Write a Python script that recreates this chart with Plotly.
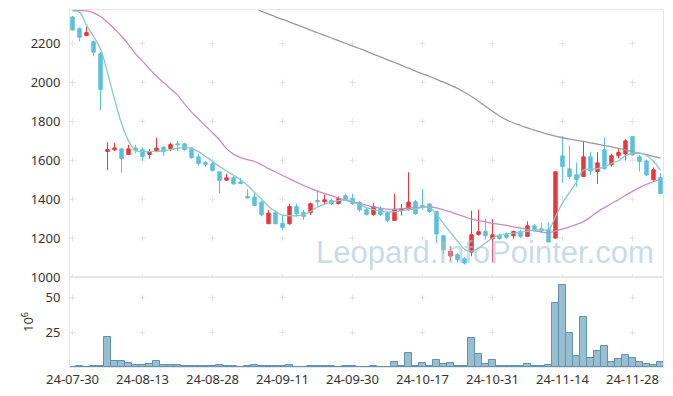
import plotly.graph_objects as go

dates = [
    "24-07-30", "24-07-31", "24-08-01", "24-08-02", "24-08-05", "24-08-06", "24-08-07", "24-08-08", "24-08-09", "24-08-12",
    "24-08-13", "24-08-14", "24-08-16", "24-08-19", "24-08-20", "24-08-21", "24-08-22", "24-08-23", "24-08-26", "24-08-27",
    "24-08-28", "24-08-29", "24-08-30", "24-09-02", "24-09-03", "24-09-04", "24-09-05", "24-09-06", "24-09-09", "24-09-10",
    "24-09-11", "24-09-12", "24-09-13", "24-09-19", "24-09-20", "24-09-23", "24-09-24", "24-09-25", "24-09-26", "24-09-27",
    "24-09-30", "24-10-02", "24-10-04", "24-10-07", "24-10-08", "24-10-10", "24-10-11", "24-10-14", "24-10-15", "24-10-16",
    "24-10-17", "24-10-18", "24-10-21", "24-10-22", "24-10-23", "24-10-24", "24-10-25", "24-10-28", "24-10-29", "24-10-30",
    "24-10-31", "24-11-01", "24-11-04", "24-11-05", "24-11-06", "24-11-07", "24-11-08", "24-11-11", "24-11-12", "24-11-13",
    "24-11-14", "24-11-15", "24-11-18", "24-11-19", "24-11-20", "24-11-21", "24-11-22", "24-11-25", "24-11-26", "24-11-27",
    "24-11-28", "24-11-29", "24-12-02", "24-12-03", "24-12-04",
]

open_ = [2337, 2277, 2241, 2210, 2149, 1645, 1654, 1659, 1630, 1664,
         1654, 1630, 1645, 1668, 1661, 1685, 1685, 1663, 1618, 1589,
         1582, 1541, 1498, 1510, 1488, 1414, 1412, 1385, 1274, 1332,
         1277, 1274, 1363, 1332, 1332, 1394, 1387, 1394, 1378, 1418,
         1404, 1383, 1346, 1322, 1354, 1329, 1291, 1341, 1346, 1387,
         1368, 1375, 1337, 1212, 1108, 1115, 1094, 1128, 1219, 1234,
         1197, 1214, 1219, 1212, 1234, 1209, 1263, 1248, 1245, 1200,
         1623, 1556, 1526, 1517, 1618, 1542, 1654, 1577, 1623, 1633,
         1722, 1618, 1597, 1500, 1512]
high = [2342, 2284, 2286, 2217, 2156, 1693, 1690, 1662, 1680, 1680,
        1668, 1658, 1716, 1670, 1691, 1699, 1690, 1666, 1633, 1597,
        1594, 1543, 1531, 1519, 1509, 1452, 1428, 1392, 1344, 1342,
        1320, 1377, 1377, 1344, 1383, 1448, 1424, 1402, 1414, 1428,
        1428, 1390, 1360, 1380, 1364, 1339, 1428, 1375, 1539, 1397,
        1452, 1380, 1340, 1217, 1157, 1124, 1102, 1341, 1346, 1301,
        1298, 1224, 1229, 1239, 1243, 1286, 1274, 1277, 1280, 1541,
        1726, 1675, 1589, 1697, 1645, 1642, 1719, 1634, 1661, 1709,
        1726, 1627, 1604, 1563, 1534]
low = [2268, 2212, 2240, 2135, 1858, 1550, 1647, 1536, 1628, 1635,
       1599, 1609, 1642, 1622, 1647, 1647, 1650, 1608, 1572, 1565,
       1541, 1431, 1496, 1474, 1476, 1404, 1365, 1311, 1272, 1272,
       1241, 1269, 1311, 1294, 1318, 1363, 1373, 1370, 1373, 1390,
       1370, 1334, 1315, 1315, 1312, 1281, 1288, 1316, 1342, 1320,
       1346, 1330, 1175, 1120, 1082, 1074, 1064, 1106, 1212, 1192,
       1077, 1192, 1197, 1197, 1200, 1205, 1231, 1226, 1178, 1198,
       1483, 1503, 1465, 1514, 1525, 1479, 1551, 1567, 1611, 1599,
       1623, 1542, 1520, 1495, 1428]
close = [2270, 2233, 2257, 2156, 1964, 1656, 1664, 1609, 1659, 1652,
         1620, 1644, 1663, 1644, 1681, 1680, 1655, 1614, 1584, 1580,
         1548, 1496, 1510, 1479, 1481, 1406, 1368, 1320, 1329, 1274,
         1255, 1363, 1325, 1311, 1377, 1387, 1397, 1378, 1404, 1397,
         1378, 1346, 1322, 1361, 1322, 1291, 1349, 1351, 1385, 1325,
         1361, 1337, 1221, 1140, 1132, 1089, 1072, 1217, 1233, 1212,
         1217, 1197, 1205, 1234, 1209, 1263, 1243, 1238, 1180, 1541,
         1568, 1517, 1500, 1618, 1545, 1587, 1558, 1623, 1640, 1700,
         1628, 1594, 1525, 1551, 1429]

ma5 = [2368, 2362, 2294, 2238, 2174, 2050, 1915, 1790, 1700, 1650,
       1646, 1645, 1646, 1650, 1655, 1662, 1665, 1660, 1645, 1620,
       1595, 1568, 1545, 1523, 1500, 1470, 1435, 1400, 1363, 1337,
       1318, 1315, 1315, 1320, 1337, 1360, 1375, 1385, 1393, 1396,
       1390, 1372, 1357, 1347, 1340, 1334, 1336, 1341, 1346, 1350,
       1358, 1358, 1322, 1275, 1228, 1185, 1143, 1133, 1148, 1175,
       1200, 1215, 1222, 1226, 1230, 1235, 1240, 1243, 1243, 1311,
       1380, 1435, 1488, 1550, 1554, 1558, 1565, 1585, 1598, 1625,
       1635, 1637, 1625, 1595, 1548]
ma20 = [2370, 2370, 2368, 2358, 2340, 2310, 2275, 2238, 2195, 2148,
        2110, 2070, 2032, 2000, 1968, 1935, 1890, 1848, 1812, 1778,
        1742, 1706, 1660, 1632, 1614, 1603, 1594, 1577, 1557, 1540,
        1522, 1505, 1488, 1471, 1456, 1442, 1430, 1418, 1406, 1394,
        1386, 1378, 1369, 1360, 1353, 1349, 1348, 1350, 1354, 1357,
        1360, 1360, 1355, 1345, 1335, 1322, 1310, 1298, 1290, 1284,
        1276, 1271, 1265, 1258, 1251, 1244, 1238, 1232, 1227, 1236,
        1247, 1258, 1271, 1285, 1308, 1335, 1357, 1378, 1398, 1420,
        1440, 1460, 1476, 1490, 1503]
ma60 = [None] * 26 + [
        2385, 2366, 2352, 2338,
        2325, 2311, 2298, 2284, 2270, 2256, 2243, 2229, 2215, 2202,
        2189, 2175, 2160, 2146, 2132, 2117, 2103, 2088, 2074, 2059,
        2045, 2031, 2016, 2002, 1987, 1970, 1950, 1928, 1904, 1878,
        1852, 1828, 1808, 1792, 1779, 1767, 1755, 1744, 1733, 1724,
        1716, 1709, 1703, 1697, 1690, 1683, 1676, 1669, 1662, 1653,
        1645, 1637, 1629, 1620, 1611]

volume = [0, 0.6, 0, 0.5, 0.5, 22, 4.4, 4.4, 2.9, 1.5,
          1.5, 2.2, 4.4, 1.5, 1.5, 1.5, 0.5, 0.5, 0.5, 0.5,
          0.5, 1.5, 0.5, 0.5, 0, 0.5, 1.2, 0.5, 0.5, 0.5,
          0.5, 1.2, 0, 0, 0.5, 0.5, 0.5, 0.5, 0, 0.5,
          0.5, 0, 0, 0.5, 0, 0, 3.9, 0.5, 10.4, 0.7,
          2.9, 0.5, 5.3, 2.2, 2.9, 0.5, 0.5, 21, 9.4, 2.2,
          5.3, 0.5, 0.5, 0.5, 0.5, 2.2, 0.5, 0.5, 1.4, 45.9,
          58.9, 24.9, 8.2, 36.2, 6.8, 11.8, 15.2, 3.9, 6.0, 8.7,
          6.8, 3.9, 2.4, 1.7, 3.9]

price_ticks = [1000, 1200, 1400, 1600, 1800, 2000, 2200]
vol_ticks = [25, 50]
x_ticks = dates[::10]

RED = "#e8383d"
BLUE = "#5bc0de"
GRID = "#e3e3e3"
AXIS = "#e6e6e6"
TICKFONT = dict(family="Noto Sans", size=13, color="#333333")

fig = go.Figure()

fig.add_trace(go.Candlestick(
    x=dates, open=open_, high=high, low=low, close=close,
    increasing=dict(line=dict(color=RED, width=1), fillcolor=RED),
    decreasing=dict(line=dict(color=BLUE, width=1), fillcolor=BLUE),
    whiskerwidth=0, xaxis="x", yaxis="y", showlegend=False))

fig.add_trace(go.Scatter(x=dates, y=ma60, mode="lines", xaxis="x", yaxis="y",
                         line=dict(color="#9a9a9a", width=1.3, shape="spline"), showlegend=False))
fig.add_trace(go.Scatter(x=dates, y=ma20, mode="lines", xaxis="x", yaxis="y",
                         line=dict(color="#c98bc3", width=1.3, shape="spline"), showlegend=False))
fig.add_trace(go.Scatter(x=dates, y=ma5, mode="lines", xaxis="x", yaxis="y",
                         line=dict(color="#86cbc4", width=1.3, shape="spline"), showlegend=False))

fig.add_trace(go.Bar(x=dates, y=volume, xaxis="x2", yaxis="y2",
                     marker=dict(color="rgb(152,191,209)", line=dict(color="rgb(96,146,174)", width=1)),
                     showlegend=False))

# small grid crosses at tick intersections, drawn beneath the data
shapes = []
for xr_, yr_, yvals in (("x", "y", price_ticks), ("x2", "y2", vol_ticks)):
    for d in x_ticks:
        i = dates.index(d)
        for v in yvals:
            shapes.append(dict(type="line", xref=xr_, yref=yr_, layer="below",
                               xsizemode="pixel", xanchor=i, x0=-3, x1=3, y0=v, y1=v,
                               line=dict(color=GRID, width=1)))
            shapes.append(dict(type="line", xref=xr_, yref=yr_, layer="below",
                               ysizemode="pixel", yanchor=v, y0=-3, y1=3, x0=i, x1=i,
                               line=dict(color=GRID, width=1)))

# the page body adds an 8px offset, so margins are shifted to compensate
split = 90 / 357
xr = [-0.36, 84.36]
fig.update_layout(
    width=673, height=396,
    margin=dict(l=62, r=18, t=2, b=37),
    paper_bgcolor="white", plot_bgcolor="white",
    bargap=0,
    shapes=shapes,
    xaxis=dict(domain=[0, 1], anchor="y", type="category", categoryorder="array", categoryarray=dates,
               range=xr, showticklabels=False, automargin=False,
               showgrid=False, zeroline=False, showline=True, mirror=True, linecolor=AXIS, linewidth=1,
               rangeslider=dict(visible=False), ticks=""),
    yaxis=dict(domain=[split, 1], anchor="x", range=[1000, 2373], tickvals=price_ticks, automargin=False,
               showgrid=False, zeroline=False, showline=True, mirror=True, linecolor=AXIS, linewidth=1,
               ticks="", tickfont=TICKFONT, ticklabelstandoff=6),
    xaxis2=dict(domain=[0, 1], anchor="y2", type="category", categoryorder="array", categoryarray=dates,
                range=xr, tickvals=x_ticks, automargin=False,
                showgrid=False, zeroline=False, showline=True, mirror=True, linecolor=AXIS, linewidth=1,
                ticks="", tickfont=TICKFONT, tickangle=0),
    yaxis2=dict(domain=[0, split], anchor="x2", range=[0, 65], tickvals=vol_ticks, automargin=False,
                showgrid=False, zeroline=False, showline=True, mirror=True, linecolor=AXIS, linewidth=1,
                ticks="", tickfont=TICKFONT, ticklabelstandoff=6,
                title=dict(text="10<sup>6</sup>", font=dict(family="Noto Sans", size=13, color="#333333"), standoff=8)),
    annotations=[dict(text="Leopard.InfoPointer.com", xref="paper", yref="paper", x=0.70, y=0.322,
                      xanchor="center", yanchor="middle", showarrow=False,
                      font=dict(family="Liberation Sans", size=31, color="rgba(165,195,215,0.6)"))],
)

fig.write_html("out.html")
